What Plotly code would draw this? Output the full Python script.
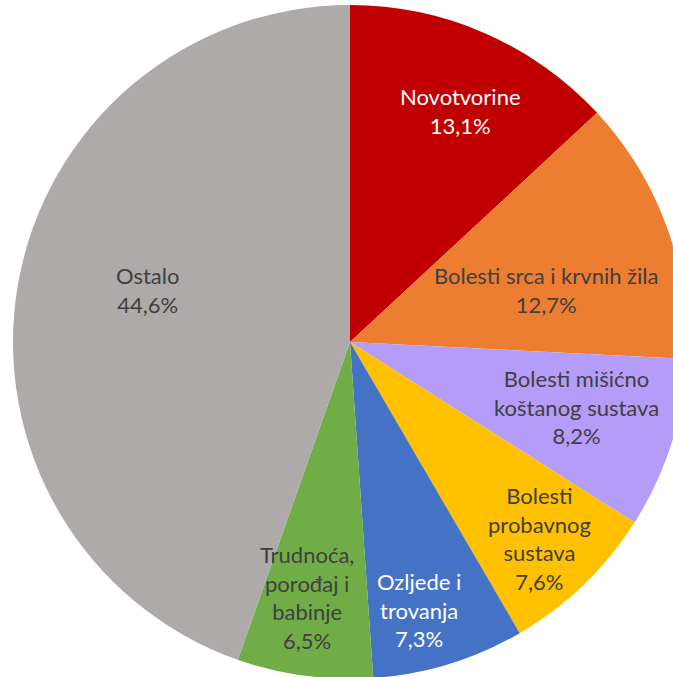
import math
import plotly.graph_objects as go

# Udio uzroka (%), redom u smjeru kazaljke na satu od 12 sati
labels = ["Novotvorine", "Bolesti srca i krvnih žila", "Bolesti mišićno koštanog sustava",
          "Bolesti probavnog sustava", "Ozljede i trovanja", "Trudnoća, porođaj i babinje", "Ostalo"]
label_text = ["Novotvorine", "Bolesti srca i krvnih žila", "Bolesti mišićno<br>koštanog sustava",
              "Bolesti<br>probavnog<br>sustava", "Ozljede i<br>trovanja", "Trudnoća,<br>porođaj i<br>babinje", "Ostalo"]
values = [13.1, 12.7, 8.2, 7.6, 7.3, 6.5, 44.6]
colors = ["#C00000", "#ED7D31", "#B39DF9", "#FFC000", "#4472C4", "#70AD47", "#AEAAAA"]
text_colors = ["#FFFFFF", "#404040", "#404040", "#404040", "#FFFFFF", "#404040", "#404040"]

# položaj natpisa: udio polumjera i pomak kuta od sredine isječka (kao "best fit" u Excelu)
label_radius = [0.76, 0.60, 0.70, 0.81, 0.82, 0.77, 0.62]
label_shift = [2.0, 5.2, -1.6, 0.0, 2.7, 1.7, 4.7]

W, H = 700, 684
cx, cy, r = 350, 342, 337

fig = go.Figure(go.Pie(
    labels=labels,
    values=values,
    sort=False,
    direction="clockwise",
    rotation=0,
    marker=dict(colors=colors, line=dict(width=0)),
    textinfo="none",
    hoverinfo="label+percent",
    domain=dict(x=[(cx - r) / W, (cx + r) / W], y=[(H - cy - r) / H, (H - cy + r) / H]),
))

# natpisi unutar isječaka
total = sum(values)
cum = 0
for txt, v, col, f, sh in zip(label_text, values, text_colors, label_radius, label_shift):
    mid = (cum + v / 2) / total * 2 * math.pi + math.radians(sh)
    cum += v
    x = cx + f * r * math.sin(mid)
    y = (H - cy) + f * r * math.cos(mid)
    pct = f"{v / total * 100:.1f}".replace(".", ",") + "%"
    fig.add_annotation(
        x=x / W, y=y / H, xref="paper", yref="paper",
        text=f"{txt}<br>{pct}", showarrow=False, align="center",
        xanchor="center", yanchor="middle",
        font=dict(family="Lato, sans-serif", size=22, color=col),
    )

fig.update_layout(
    width=W, height=H,
    margin=dict(l=0, r=0, t=0, b=0),
    showlegend=False,
    paper_bgcolor="white",
)

fig.write_html("out.html", config={"displayModeBar": False},
               post_script="document.body.style.margin='0';document.body.style.overflow='hidden';")
